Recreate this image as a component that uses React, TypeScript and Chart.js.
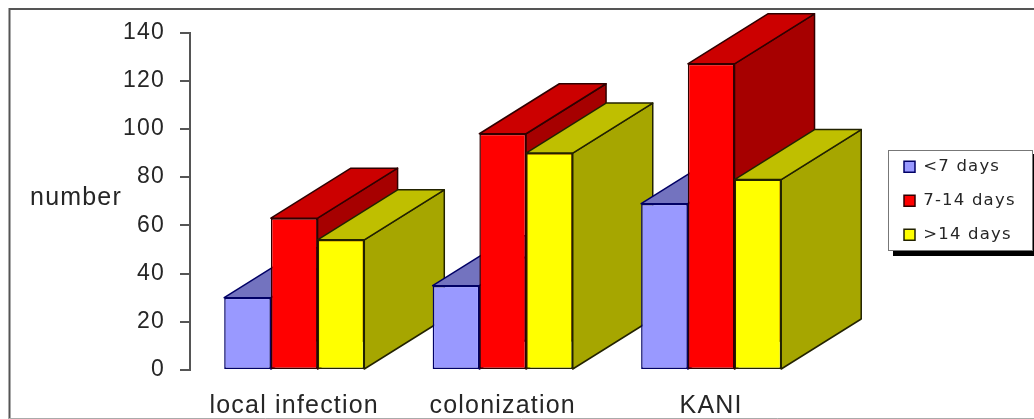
import React, { useEffect, useRef } from "react";
import { Chart, registerables } from "chart.js";

Chart.register(...registerables);

const categories = ["local infection", "colonization", "KANI"];
const seriesNames = ["<7 days", "7-14 days", ">14 days"];
const under7 = [30, 35, 69];
const from7to14 = [63, 98, 127];
const over14 = [54, 90, 79];
const yTitle = "number";

const frontColors = ["#9999ff", "#ff0000", "#ffff00"];
const topColors = ["#7373bf", "#cc0000", "#bfbf00"];
const sideColors = ["#5c5c99", "#a60000", "#a6a600"];
const edgeColors = ["#000066", "#300000", "#222200"];
const DEPTH_X = 80;
const DEPTH_Y = -50;
const FONT = "'Liberation Sans', Arial, sans-serif";
const TEXT = "#262626";

const frame3d = {
  id: "frame3d",
  beforeDraw(chart: any) {
    const { ctx, width, height } = chart;
    ctx.save();
    ctx.fillStyle = "#ffffff";
    ctx.fillRect(0, 0, width, height);
    ctx.strokeStyle = "#555555";
    ctx.lineWidth = 2;
    ctx.beginPath();
    ctx.moveTo(9.5, height);
    ctx.lineTo(9.5, 9);
    ctx.lineTo(width, 9);
    ctx.stroke();
    ctx.strokeStyle = "#aaaaaa";
    ctx.lineWidth = 1;
    ctx.beginPath();
    ctx.moveTo(9, height - 0.5);
    ctx.lineTo(width, height - 0.5);
    ctx.stroke();
    ctx.restore();
    ctx.letterSpacing = "1.2px";
    // legend panel
    const lg = chart.legend;
    lg.left = 886.5;
    lg.right = 1033;
    lg.width = 146.5;
    lg.top = 141;
    lg.bottom = 400;
    lg.height = 259;
    ctx.save();
    ctx.fillStyle = "#000000";
    ctx.fillRect(893, 154, 141, 102);
    ctx.fillStyle = "#ffffff";
    ctx.strokeStyle = "#777777";
    ctx.lineWidth = 1;
    ctx.fillRect(888.5, 150.5, 144, 100);
    ctx.strokeRect(888.5, 150.5, 144, 100);
    ctx.restore();
  },
  beforeDatasetDraw() {
    return false;
  },
  afterDatasetsDraw(chart: any) {
    const { ctx } = chart;
    const metas = chart.data.datasets.map((_: any, i: number) => chart.getDatasetMeta(i));
    categories.forEach((_, c) => {
      metas.forEach((meta: any, s: number) => {
        const bar = meta.data[c];
        const l = bar.x - bar.width / 2;
        const r = bar.x + bar.width / 2;
        const t = bar.y;
        const b = bar.base;
        ctx.save();
        ctx.lineWidth = 1.5;
        ctx.lineJoin = "round";
        ctx.strokeStyle = edgeColors[s];
        ctx.fillStyle = sideColors[s];
        ctx.beginPath();
        ctx.moveTo(r, t);
        ctx.lineTo(r + DEPTH_X, t + DEPTH_Y);
        ctx.lineTo(r + DEPTH_X, b + DEPTH_Y);
        ctx.lineTo(r, b);
        ctx.closePath();
        ctx.fill();
        ctx.stroke();
        ctx.fillStyle = topColors[s];
        ctx.beginPath();
        ctx.moveTo(l, t);
        ctx.lineTo(l + DEPTH_X, t + DEPTH_Y);
        ctx.lineTo(r + DEPTH_X, t + DEPTH_Y);
        ctx.lineTo(r, t);
        ctx.closePath();
        ctx.fill();
        ctx.stroke();
        ctx.restore();
        bar.draw(ctx);
      });
    });
    const y = chart.scales.y;
    ctx.save();
    ctx.font = `25px ${FONT}`;
    ctx.fillStyle = TEXT;
    ctx.textAlign = "right";
    ctx.textBaseline = "middle";
    ctx.fillText(yTitle, y.left + 122, y.getPixelForValue(71.5));
    ctx.restore();
  },
};

export default function App() {
  const ref = useRef<HTMLCanvasElement>(null);
  useEffect(() => {
    if (!ref.current) return;
    const values = [under7, from7to14, over14];
    const chart = new Chart(ref.current, {
      type: "bar",
      data: {
        labels: categories,
        datasets: seriesNames.map((label, i) => ({
          label,
          data: values[i],
          backgroundColor: frontColors[i],
          borderColor: edgeColors[i],
          borderWidth: 1.5,
          borderSkipped: false,
          barPercentage: 1,
          categoryPercentage: 0.672,
        })),
      },
      options: {
        responsive: false,
        animation: false,
        layout: { padding: { left: 0, right: 90.2, top: 32.5, bottom: 0 } },
        plugins: {
          title: { display: false },
          tooltip: { enabled: false },
          legend: {
            display: true,
            position: "right",
            fullSize: false,
            align: "start",
            labels: {
              boxWidth: 11,
              boxHeight: 11,
              padding: 17.5,
              color: TEXT,
              font: { family: "'DejaVu Sans', sans-serif", size: 16.5 },
            },
          },
        },
        scales: {
          x: {
            afterFit(s: any) {
              s.height = 49;
            },
            grid: { display: false, drawTicks: false },
            border: { display: false },
            ticks: {
              autoSkip: false,
              maxRotation: 0,
              padding: 21,
              color: TEXT,
              font: { family: FONT, size: 25 },
            },
          },
          y: {
            min: 0,
            max: 140,
            afterFit(s: any) {
              s.width = 190;
            },
            grid: {
              drawOnChartArea: false,
              drawTicks: true,
              tickLength: 10,
              tickColor: "#555555",
              lineWidth: 2,
            },
            border: { display: true, color: "#555555", width: 2 },
            ticks: {
              stepSize: 20,
              padding: 15,
              color: TEXT,
              font: { family: FONT, size: 23 },
            },
          },
        },
      },
      plugins: [frame3d],
    } as any);
    return () => chart.destroy();
  }, []);
  return (
    <div style={{ position: "fixed", left: 0, top: 0, width: 1034, height: 419 }}>
      <canvas ref={ref} width={1034} height={419} style={{ display: "block", filter: "blur(0.4px)" }} />
    </div>
  );
}
